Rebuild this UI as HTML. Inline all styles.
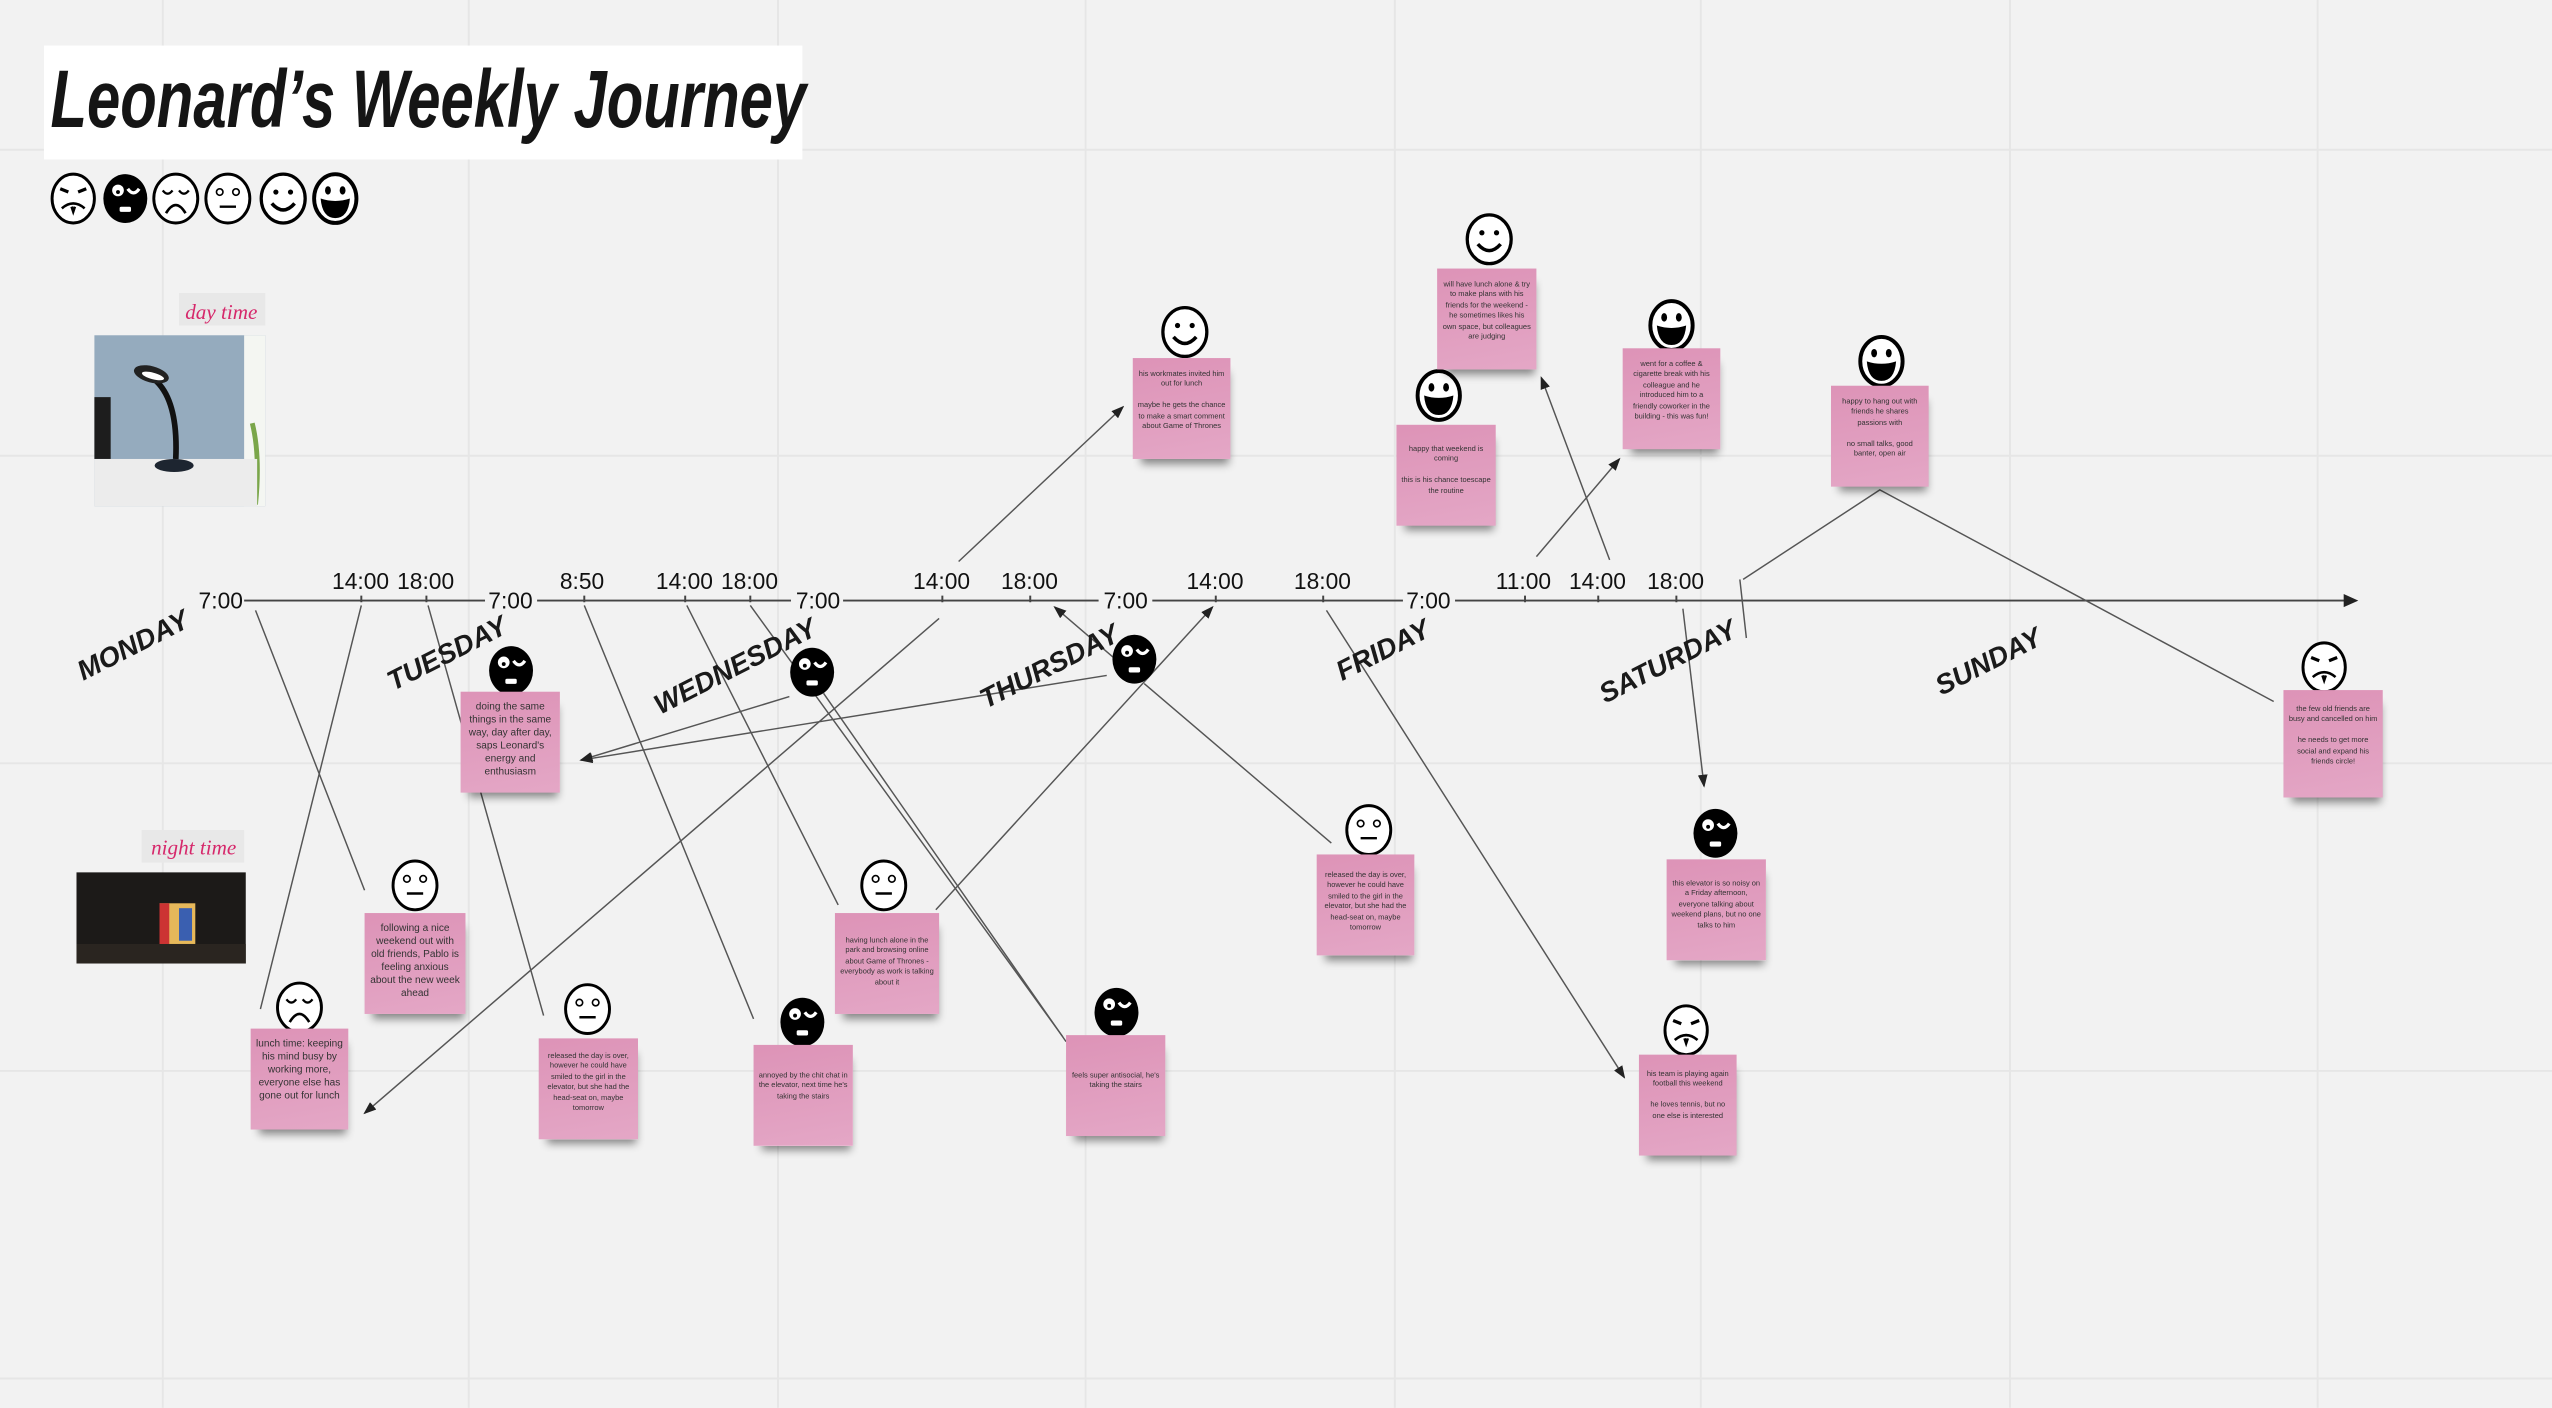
<!DOCTYPE html>
<html><head><meta charset="utf-8"><style>
html,body{margin:0;padding:0;background:#f2f2f2;overflow:hidden}
#c{position:absolute;left:0;top:0;width:1568px;height:865px;transform:scale(1.627551);transform-origin:0 0;font-family:"Liberation Sans",sans-serif}
.s{position:absolute;width:61px;height:62px;background:linear-gradient(170deg,#dd93b7,#e4a7c6);box-shadow:2px 6px 5px -3px rgba(0,0,0,.45);color:#333;text-align:center;font-size:4.6px;line-height:6.4px;padding:8px 3px 0;box-sizing:border-box;font-family:"Liberation Sans Narrow","Liberation Sans",sans-serif}
.b{font-size:6.2px;line-height:8px;padding-top:6px}
.t{position:absolute;font-size:14px;color:#111;font-family:"Liberation Sans Narrow","Liberation Sans",sans-serif}
.d{position:absolute;font-weight:bold;font-style:italic;font-size:17px;color:#1a1a1a;transform:translate(-50%,-50%) rotate(-27deg);white-space:nowrap}
</style></head><body><div id="c">
<svg width="1568" height="865" style="position:absolute;left:0;top:0">
<defs>
<marker id="a" markerWidth="8" markerHeight="6" refX="7" refY="3" orient="auto" markerUnits="userSpaceOnUse"><path d="M0,0L8,3L0,6Z" fill="#222"/></marker>
<g id="neu"><ellipse rx="13.5" ry="15" fill="#fff" stroke="#000" stroke-width="1.8"/><circle cx="-5" cy="-4" r="2" fill="none" stroke="#000" stroke-width="1"/><circle cx="5" cy="-4" r="2" fill="none" stroke="#000" stroke-width="1"/><path d="M-5,5H5" stroke="#000" stroke-width="1.5"/></g>
<g id="smi"><ellipse rx="13.5" ry="15" fill="#fff" stroke="#000" stroke-width="2"/><circle cx="-4.5" cy="-4" r="1.6"/><circle cx="4.5" cy="-4" r="1.6"/><path d="M-7,3Q0,11 7,3" fill="none" stroke="#000" stroke-width="2.2"/></g>
<g id="gri"><ellipse rx="13" ry="15" fill="#fff" stroke="#000" stroke-width="2.4"/><ellipse cx="-4.5" cy="-5" rx="1.8" ry="2.6"/><ellipse cx="4.5" cy="-5" rx="1.8" ry="2.6"/><path d="M-9,0Q0,3 9,0Q8,12 0,12Q-8,12 -9,0Z"/></g>
<g id="sad"><ellipse rx="13.5" ry="15" fill="#fff" stroke="#000" stroke-width="1.8"/><path d="M-8,-5Q-5,-1 -2,-5M2,-5Q5,-1 8,-5" fill="none" stroke="#000" stroke-width="1.4"/><path d="M-6,9Q0,-1 6,9" fill="none" stroke="#000" stroke-width="1.6"/></g>
<g id="blk"><ellipse rx="13.5" ry="15"/><circle cx="-4.5" cy="-5" r="3.6" fill="#fff"/><circle cx="-4.5" cy="-4" r="1.2"/><path d="M1.5,-6Q5,-1 8.5,-6" fill="none" stroke="#fff" stroke-width="2"/><rect x="-3.5" y="5" width="7" height="3.2" rx="1" fill="#fff"/></g>
<g id="wor"><ellipse rx="13" ry="15" fill="#fff" stroke="#000" stroke-width="1.8"/><path d="M-8,-6L-3,-4M8,-6L3,-4" stroke="#000" stroke-width="2"/><path d="M-7,6Q0,0 7,6M-1,5L0,8L1,5" fill="none" stroke="#000" stroke-width="1.6"/></g>
</defs>
<g stroke="#e6e6e6" stroke-width="1.2">
<path d="M100,0V865M288,0V865M478,0V865M667,0V865M857,0V865M1045,0V865M1235,0V865M1424,0V865M0,92H1568M0,280H1568M0,469H1568M0,658H1568M0,847H1568"/>
</g>
<rect x="27" y="28" width="466" height="70" fill="#fff"/>
<g stroke="#444" stroke-width="1.2" fill="none">
<path d="M150,369H298M330,369H486M518,369H675M708,369H862M894,369H1442"/>
<path d="M222,366v4M262,366v4M359,366v4M421,366v4M461,366v4M579,366v4M633,366v4M747,366v4M813,366v4M937,366v4M982,366v4M1030,366v4"/>
</g>
<path d="M1440,365L1449,369L1440,373Z" fill="#222"/>
<g stroke="#555" stroke-width="0.9" fill="none">
<path d="M157,375L224,547M222,372L160,620M263,372L334,624M359,372L463,626M422,372L515,556M461,372L653,637"/>
<path d="M577,380L224,684" marker-end="url(#a)"/>
<path d="M589,345L690,250" marker-end="url(#a)"/>
<path d="M485,428L357,467" marker-end="url(#a)"/>
<path d="M680,415L357,467" marker-end="url(#a)"/>
<path d="M575,559L745,373" marker-end="url(#a)"/>
<path d="M697,415L648,373" marker-end="url(#a)"/>
<path d="M703,420L818,518M506,426L655,640"/>
<path d="M815,375L998,662" marker-end="url(#a)"/>
<path d="M944,342L995,282" marker-end="url(#a)"/>
<path d="M989,344L947,232" marker-end="url(#a)"/>
<path d="M1034,374L1047,483" marker-end="url(#a)"/>
<path d="M1069,356L1073,392M1071,356L1155,301L1397,431"/>
</g>
<use href="#wor" x="45" y="122"/><use href="#blk" x="77" y="122"/><use href="#sad" x="108" y="122"/><use href="#neu" x="140" y="122"/><use href="#smi" x="174" y="122"/><use href="#gri" x="206" y="122"/>
<use href="#neu" x="255" y="544"/><use href="#sad" x="184" y="619"/><use href="#blk" x="314" y="412"/><use href="#neu" x="361" y="620"/>
<use href="#blk" x="499" y="413"/><use href="#neu" x="543" y="544"/><use href="#blk" x="493" y="628"/>
<use href="#blk" x="697" y="405"/><use href="#smi" x="728" y="204"/><use href="#blk" x="686" y="622"/><use href="#neu" x="841" y="510"/>
<use href="#gri" x="884" y="243"/><use href="#smi" x="915" y="147"/><use href="#gri" x="1027" y="200"/><use href="#blk" x="1054" y="512"/><use href="#wor" x="1036" y="633"/>
<use href="#gri" x="1156" y="222"/><use href="#wor" x="1428" y="410"/>
<rect x="58" y="206" width="105" height="105" fill="#95abbe"/>
<rect x="150" y="206" width="13" height="105" fill="#f4f6f2"/>
<path d="M155,260q5,20 2,50" stroke="#7aa64a" stroke-width="3" fill="none"/>
<rect x="58" y="244" width="10" height="38" fill="#1d1d1d"/>
<rect x="58" y="282" width="100" height="29" fill="#ececec"/>
<path d="M88,229Q110,238 108,282" stroke="#111" stroke-width="3.5" fill="none"/>
<ellipse cx="93" cy="230" rx="11" ry="5" fill="#222" transform="rotate(15 93 230)"/>
<ellipse cx="94" cy="231" rx="7" ry="2" fill="#fff" transform="rotate(15 94 231)"/>
<ellipse cx="107" cy="286" rx="12" ry="4" fill="#1d2530"/>
<rect x="110" y="180" width="53" height="20" fill="#e8e8e8"/>
<text x="136" y="196" text-anchor="middle" font-size="13" font-style="italic" fill="#d6286b" font-family="Liberation Serif">day time</text>
<rect x="87" y="510" width="63" height="20" fill="#e8e8e8"/>
<text x="119" y="525" text-anchor="middle" font-size="13" font-style="italic" fill="#d6286b" font-family="Liberation Serif">night time</text>
<rect x="47" y="536" width="104" height="56" fill="#1c1a18"/>
<rect x="98" y="555" width="22" height="25" fill="#e6b85a"/>
<rect x="98" y="555" width="6" height="25" fill="#c33"/>
<rect x="110" y="558" width="8" height="20" fill="#3a5fb0"/>
<rect x="47" y="580" width="104" height="12" fill="#2a2520"/>
</svg>
<div style="position:absolute;left:31px;top:32px;font:bold italic 50px 'Liberation Sans',sans-serif;color:#151515;white-space:nowrap;transform:scaleX(0.735);transform-origin:0 0">Leonard’s Weekly Journey</div>
<div class="t" style="left:122px;top:361px">7:00</div>
<div class="t" style="left:204px;top:349px">14:00</div><div class="t" style="left:244px;top:349px">18:00</div>
<div class="t" style="left:300px;top:361px">7:00</div>
<div class="t" style="left:344px;top:349px">8:50</div><div class="t" style="left:403px;top:349px">14:00</div><div class="t" style="left:443px;top:349px">18:00</div>
<div class="t" style="left:489px;top:361px">7:00</div>
<div class="t" style="left:561px;top:349px">14:00</div><div class="t" style="left:615px;top:349px">18:00</div>
<div class="t" style="left:678px;top:361px">7:00</div>
<div class="t" style="left:729px;top:349px">14:00</div><div class="t" style="left:795px;top:349px">18:00</div>
<div class="t" style="left:864px;top:361px">7:00</div>
<div class="t" style="left:919px;top:349px">11:00</div><div class="t" style="left:964px;top:349px">14:00</div><div class="t" style="left:1012px;top:349px">18:00</div>
<div class="d" style="left:82px;top:397px">MONDAY</div>
<div class="d" style="left:275px;top:402px">TUESDAY</div>
<div class="d" style="left:452px;top:410px">WEDNESDAY</div>
<div class="d" style="left:645px;top:410px">THURSDAY</div>
<div class="d" style="left:850px;top:400px">FRIDAY</div>
<div class="d" style="left:1025px;top:407px">SATURDAY</div>
<div class="d" style="left:1222px;top:407px">SUNDAY</div>
<div class="s b" style="left:224px;top:561px;width:62px">following a nice weekend out with old friends, Pablo is feeling anxious about the new week ahead</div>
<div class="s b" style="left:154px;top:632px;width:60px">lunch time: keeping his mind busy by working more, everyone else has gone out for lunch</div>
<div class="s b" style="left:283px;top:425px">doing the same things in the same way, day after day, saps Leonard's energy and enthusiasm</div>
<div class="s" style="left:331px;top:638px">released the day is over, however he could have smiled to the girl in the elevator, but she had the head-seat on, maybe tomorrow</div>
<div class="s" style="left:513px;top:561px;width:64px;padding-top:14px">having lunch alone in the park and browsing online about Game of Thrones - everybody as work is talking about it</div>
<div class="s" style="left:463px;top:642px;padding-top:16px">annoyed by the chit chat in the elevator, next time he's taking the stairs</div>
<div class="s" style="left:696px;top:220px;width:60px;padding-top:7px">his workmates invited him out for lunch<br><br>maybe he gets the chance to make a smart comment about Game of Thrones</div>
<div class="s" style="left:655px;top:636px;padding-top:22px">feels super antisocial, he's taking the stairs</div>
<div class="s" style="left:809px;top:525px;width:60px;padding-top:10px">released the day is over, however he could have smiled to the girl in the elevator, but she had the head-seat on, maybe tomorrow</div>
<div class="s" style="left:858px;top:261px;padding-top:12px">happy that weekend is coming<br><br>this is his chance toescape the routine</div>
<div class="s" style="left:883px;top:165px;padding-top:7px">will have lunch alone &amp; try to make plans with his friends for the weekend - he sometimes likes his own space, but colleagues are judging</div>
<div class="s" style="left:997px;top:214px;width:60px;padding-top:7px">went for a coffee &amp; cigarette break with his colleague and he introduced him to a friendly coworker in the building - this was fun!</div>
<div class="s" style="left:1024px;top:528px;padding-top:12px">this elevator is so noisy on a Friday afternoon, everyone talking about weekend plans, but no one talks to him</div>
<div class="s" style="left:1007px;top:648px;width:60px;padding-top:9px">his team is playing again football this weekend<br><br>he loves tennis, but no one else is interested</div>
<div class="s" style="left:1125px;top:237px;width:60px;padding-top:7px">happy to hang out with friends he shares passions with<br><br>no small talks, good banter, open air</div>
<div class="s" style="left:1403px;top:424px;height:66px;padding-top:9px">the few old friends are busy and cancelled on him<br><br>he needs to get more social and expand his friends circle!</div>
</div></body></html>
